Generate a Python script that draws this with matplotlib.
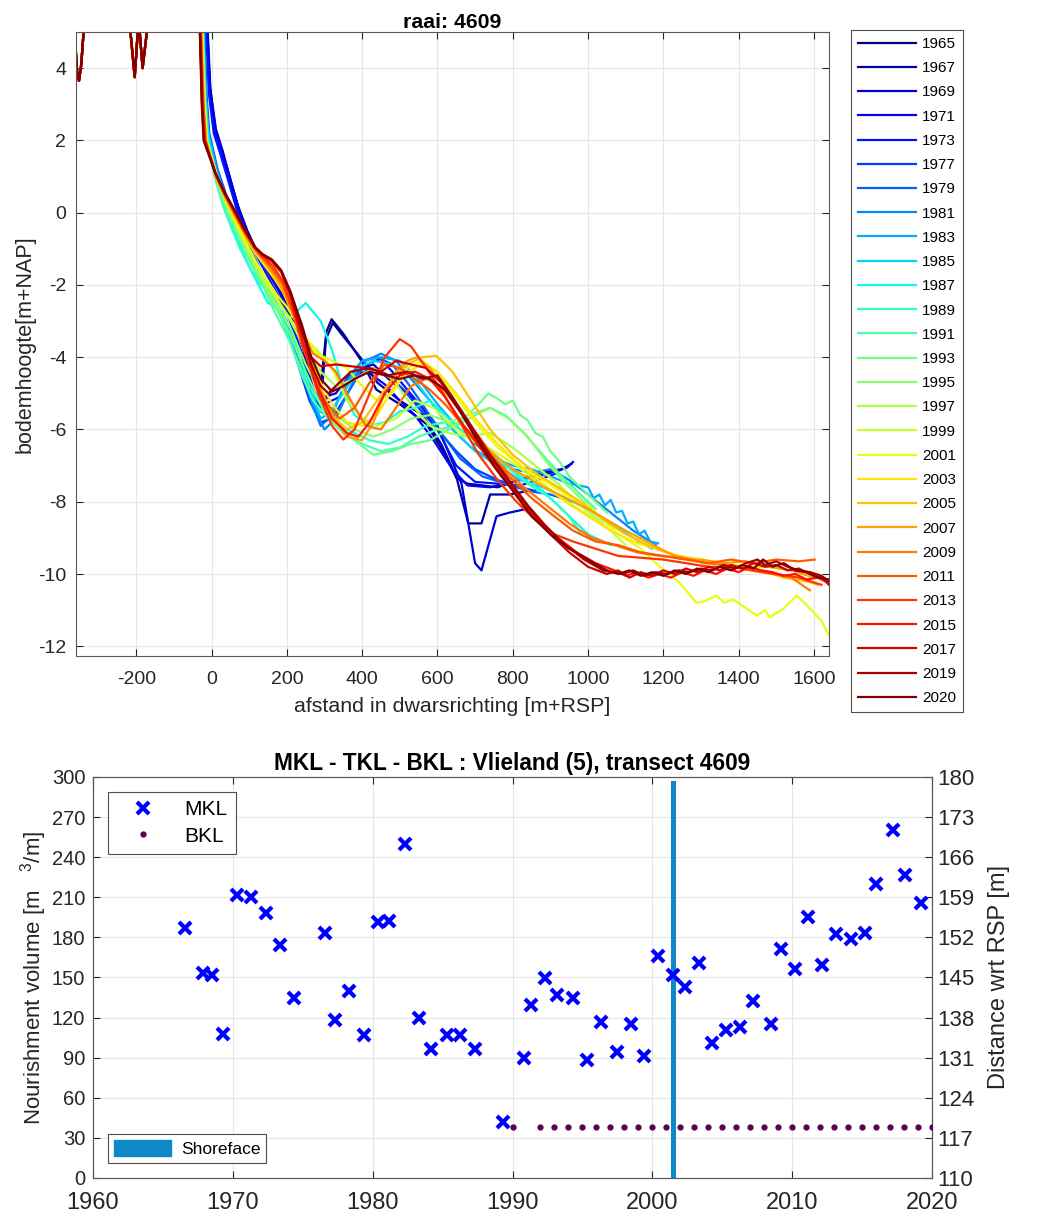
import numpy as np
import matplotlib
matplotlib.use("Agg")
import matplotlib.pyplot as plt
from matplotlib.patches import Patch

plt.rcParams['font.family'] = ['Liberation Sans', 'DejaVu Sans']
plt.rcParams['axes.unicode_minus'] = False
plt.rcParams['mathtext.fontset'] = 'custom'
plt.rcParams['mathtext.rm'] = 'Liberation Sans'

# ---------------- top panel: cross-shore profiles (x [m+RSP], z [m+NAP]) ----------------
years = [1965, 1967, 1969, 1971, 1973, 1977, 1979, 1981, 1983, 1985, 1987, 1989, 1991,
         1993, 1995, 1997, 1999, 2001, 2003, 2005, 2007, 2009, 2011, 2013, 2015, 2017,
         2019, 2020]

dune = [(-366, 5.4), (-357, 3.9), (-352, 3.65), (-346, 4.1), (-337, 5.4), (-300, 6.5),
        (-230, 6.5), (-218, 5.3), (-204, 3.75), (-196, 5.0), (-193, 5.3), (-183, 4.0),
        (-174, 4.8), (-165, 5.5), (-120, 7.0), (-60, 7.5)]

p1965 = [(-20, 7.5), (-12, 5.0), (-5, 3.5), (8, 2.4), (25, 1.8), (45, 1.1), (70, 0.2), (95, -0.5),
         (120, -1.05), (150, -1.55), (175, -2.0), (215, -2.9), (245, -3.8), (265, -4.8), (285, -5.3),
         (298, -4.0), (305, -3.3), (319, -2.95), (350, -3.35), (398, -4.1), (438, -4.9), (500, -5.3),
         (571, -5.85), (615, -6.6), (651, -7.35), (680, -7.5), (720, -7.55), (760, -7.6), (800, -7.45),
         (840, -7.3), (900, -7.15), (930, -7.1), (956, -6.95)]
p1967 = [(-18, 7.5), (-11, 5.0), (-4, 3.5), (10, 2.3), (28, 1.7), (48, 1.0), (72, 0.1), (98, -0.6),
         (122, -1.1), (150, -1.6), (178, -2.1), (212, -2.8), (240, -3.6), (262, -4.6), (282, -5.2),
         (296, -4.6), (304, -3.5), (322, -3.05), (352, -3.45), (395, -4.0), (440, -4.7), (500, -5.2),
         (560, -5.6), (610, -6.4), (650, -7.3), (682, -8.6), (717, -8.6), (740, -7.8), (792, -7.8),
         (840, -7.7)]
p1969 = [(-18, 7.5), (-10, 5.0), (-3, 3.4), (12, 2.3), (30, 1.7), (50, 0.9), (75, 0.0), (100, -0.7),
         (125, -1.2), (155, -1.7), (180, -2.2), (210, -2.7), (240, -3.6), (270, -4.6), (300, -5.1),
         (330, -5.0), (360, -4.6), (400, -4.3), (430, -4.2), (470, -4.6), (520, -5.0), (560, -5.4),
         (600, -5.9), (640, -6.9), (664, -7.5), (700, -9.7), (717, -9.9), (757, -8.4), (792, -8.3),
         (836, -8.2)]
p1971 = [(-20, 7.5), (-12, 5.0), (-5, 3.3), (10, 2.2), (28, 1.6), (48, 0.9), (72, 0.05), (98, -0.65),
         (122, -1.15), (150, -1.65), (178, -2.15), (205, -2.8), (240, -3.9), (268, -5.1), (290, -5.4),
         (320, -4.9), (350, -4.6), (380, -4.4), (420, -4.45), (460, -4.75), (500, -5.2), (540, -5.6),
         (590, -6.3), (640, -7.1), (680, -7.55), (740, -7.6), (800, -7.45), (860, -7.3), (920, -7.15),
         (945, -7.05), (960, -6.9)]
p1973 = [(-22, 7.5), (-14, 5.0), (-7, 3.3), (6, 2.2), (24, 1.6), (44, 0.9), (68, 0.05), (94, -0.65),
         (118, -1.15), (146, -1.7), (172, -2.2), (205, -2.9), (240, -3.9), (270, -4.9), (300, -5.3),
         (340, -5.1), (380, -4.5), (420, -4.15), (450, -4.05), (480, -4.4), (520, -4.9), (560, -5.4),
         (600, -6.0), (650, -7.0), (700, -7.45), (760, -7.5), (820, -7.55), (880, -7.35), (920, -7.2)]
p1977 = [(-26, 7.5), (-19, 5.0), (-13, 3.2), (-6, 2.2), (16, 1.2), (42, 0.4), (65, -0.2), (92, -0.8),
         (122, -1.4), (150, -2.0), (175, -2.6), (200, -3.2), (230, -4.2), (260, -5.2), (290, -5.8),
         (320, -5.7), (350, -5.2), (390, -4.5), (430, -4.3), (470, -4.5), (510, -4.9), (550, -5.4),
         (600, -6.0), (650, -6.6), (700, -7.1), (760, -7.4), (820, -7.6), (860, -7.7)]
p1979 = [(-27, 7.5), (-20, 5.0), (-14, 3.1), (-7, 2.1), (14, 1.2), (40, 0.4), (63, -0.2), (90, -0.8),
         (120, -1.45), (148, -2.05), (172, -2.55), (200, -3.0), (230, -4.0), (260, -5.1), (290, -5.9),
         (320, -5.6), (360, -4.6), (400, -4.1), (440, -4.0), (480, -4.2), (520, -4.7), (560, -5.3),
         (610, -6.1), (660, -6.8), (720, -7.3), (780, -7.5), (840, -7.7), (900, -7.8), (960, -8.0)]
p1981 = [(-28, 7.5), (-21, 5.0), (-15, 3.1), (-8, 2.1), (14, 1.1), (38, 0.3), (60, -0.25), (88, -0.85),
         (118, -1.5), (146, -2.1), (172, -2.6), (200, -3.1), (240, -4.3), (270, -5.4), (300, -6.0),
         (330, -5.7), (370, -4.8), (410, -4.1), (450, -3.9), (490, -4.1), (530, -4.6), (580, -5.2),
         (630, -5.9), (690, -6.5), (750, -6.9), (800, -7.1), (850, -7.2), (900, -7.1), (950, -7.4),
         (1000, -7.8), (1060, -8.3), (1120, -8.8), (1180, -9.2)]
p1983 = [(-28, 7.5), (-21, 5.0), (-15, 3.2), (-8, 2.2), (14, 1.2), (38, 0.4), (60, -0.2), (86, -0.8),
         (115, -1.4), (140, -1.9), (165, -2.4), (190, -2.9), (225, -3.9), (260, -5.0), (290, -5.7),
         (320, -5.5), (360, -4.7), (400, -4.1), (450, -4.0), (500, -4.1), (550, -4.6), (600, -5.3),
         (650, -5.9), (700, -6.4), (750, -6.8), (800, -7.0), (850, -7.1), (900, -7.3), (950, -7.5),
         (1000, -7.6), (1015, -7.9), (1030, -7.8), (1045, -8.1), (1060, -7.95), (1075, -8.3),
         (1090, -8.25), (1105, -8.6), (1120, -8.55), (1135, -8.9), (1150, -8.8), (1165, -9.1),
         (1186, -9.15)]
p1985 = [(-29, 7.5), (-22, 5.0), (-16, 3.2), (-9, 2.2), (12, 1.1), (35, 0.3), (58, -0.3), (84, -0.9),
         (110, -1.5), (135, -2.0), (158, -2.4), (180, -2.7), (215, -3.4), (250, -4.5), (285, -5.5),
         (310, -5.6), (350, -5.0), (390, -4.3), (430, -4.1), (480, -4.2), (530, -4.5), (580, -5.2),
         (640, -6.0), (700, -6.6), (760, -7.0), (820, -7.4), (880, -7.6), (940, -7.9), (1000, -8.2),
         (1060, -8.6), (1120, -9.0), (1170, -9.3)]
p1987 = [(-30, 7.5), (-23, 5.0), (-17, 3.1), (-10, 2.1), (10, 1.0), (32, 0.2), (55, -0.4), (80, -1.0),
         (105, -1.6), (130, -2.1), (150, -2.5), (170, -2.6), (210, -2.9), (250, -2.5), (290, -3.0),
         (320, -3.8), (350, -4.9), (380, -5.6), (420, -5.9), (460, -5.8), (500, -5.5), (540, -5.4),
         (580, -5.2), (620, -5.6), (660, -6.0), (700, -6.3), (760, -6.8), (820, -7.3), (880, -7.7),
         (940, -8.3), (1000, -8.9), (1060, -9.2)]
p1989 = [(-30, 7.5), (-23, 5.0), (-17, 3.0), (-11, 2.0), (8, 1.0), (30, 0.2), (52, -0.4), (76, -1.0),
         (100, -1.5), (125, -1.9), (150, -2.2), (185, -2.9), (220, -3.9), (260, -4.8), (300, -5.5),
         (340, -5.9), (380, -6.1), (420, -6.3), (470, -6.4), (520, -6.2), (570, -5.9), (620, -5.8),
         (670, -6.1), (720, -6.5), (780, -7.0), (840, -7.5), (900, -7.9), (950, -8.4), (978, -8.85)]
p1991 = [(-31, 7.5), (-25, 5.0), (-19, 3.0), (-13, 2.0), (8, 1.1), (30, 0.3), (55, -0.3), (82, -0.9),
         (110, -1.5), (140, -2.1), (170, -2.8), (210, -3.6), (240, -4.5), (270, -5.2), (310, -5.7),
         (350, -6.1), (400, -6.4), (450, -6.6), (500, -6.5), (550, -6.2), (600, -6.0), (650, -5.9),
         (700, -5.6), (740, -5.4), (780, -5.6), (830, -6.1), (880, -6.7), (930, -7.3), (980, -7.8),
         (1020, -8.2)]
p1993 = [(-31, 7.5), (-25, 5.0), (-19, 3.0), (-13, 2.0), (10, 1.1), (32, 0.3), (58, -0.3), (85, -0.9),
         (112, -1.5), (142, -2.1), (175, -2.7), (210, -3.4), (250, -4.4), (290, -5.3), (330, -5.9),
         (380, -6.3), (430, -6.7), (480, -6.6), (530, -6.4), (580, -6.3), (630, -6.0), (680, -5.6),
         (710, -5.3), (735, -5.0), (760, -5.15), (780, -5.3), (800, -5.2), (820, -5.6), (840, -5.75),
         (860, -6.1), (880, -6.2), (900, -6.6), (925, -6.9), (950, -7.3), (1000, -7.8), (1050, -8.3)]
p1995 = [(-30, 7.5), (-24, 5.0), (-18, 3.0), (-12, 2.0), (10, 1.1), (33, 0.35), (58, -0.25), (85, -0.85),
         (114, -1.45), (144, -2.05), (176, -2.6), (210, -3.2), (250, -4.2), (290, -5.0), (330, -5.6),
         (380, -6.0), (430, -6.2), (480, -6.0), (530, -5.7), (580, -5.6), (630, -5.8), (680, -5.6),
         (740, -5.4), (790, -5.7), (840, -6.2), (890, -6.9), (940, -7.5), (990, -8.0), (1040, -8.5)]
p1997 = [(-30, 7.5), (-24, 5.0), (-18, 3.0), (-12, 2.0), (12, 1.1), (35, 0.35), (60, -0.25), (88, -0.85),
         (116, -1.45), (146, -2.0), (178, -2.5), (210, -3.0), (250, -3.8), (290, -4.4), (330, -4.8),
         (380, -4.6), (430, -4.3), (480, -4.6), (530, -5.3), (580, -5.9), (630, -6.1), (680, -6.2),
         (740, -6.1), (800, -6.5), (860, -7.0), (920, -7.5), (980, -8.1), (1040, -8.6)]
p1999 = [(-30, 7.5), (-24, 5.0), (-18, 3.0), (-12, 2.0), (12, 1.1), (36, 0.4), (62, -0.2), (90, -0.8),
         (118, -1.4), (148, -1.95), (175, -2.4), (200, -2.8), (240, -3.4), (280, -3.8), (320, -4.3),
         (360, -5.2), (400, -5.7), (440, -5.9), (490, -5.7), (540, -5.2), (590, -5.4), (640, -5.9),
         (690, -6.3), (750, -6.6), (810, -7.0), (870, -7.5), (930, -7.9), (990, -8.3), (1050, -8.7),
         (1100, -9.2)]
p2001 = [(-31, 7.5), (-25, 5.0), (-19, 3.0), (-13, 2.0), (12, 1.1), (36, 0.4), (62, -0.2), (90, -0.8),
         (120, -1.4), (150, -1.9), (175, -2.3), (200, -2.6), (240, -3.3), (280, -3.9), (320, -4.1),
         (360, -4.3), (400, -4.8), (440, -5.2), (480, -5.0), (520, -4.3), (560, -4.1), (600, -4.4),
         (650, -5.1), (700, -5.8), (760, -6.5), (820, -7.0), (880, -7.4), (940, -7.8), (1000, -8.1),
         (1032, -8.4), (1080, -8.9), (1140, -9.3), (1191, -9.8), (1244, -10.25), (1288, -10.8),
         (1310, -10.75), (1341, -10.6), (1362, -10.8), (1385, -10.7), (1420, -10.95), (1448, -11.15),
         (1470, -11.0), (1483, -11.2), (1520, -10.95), (1554, -10.6), (1575, -10.8), (1598, -11.05),
         (1620, -11.3), (1640, -11.7)]
p2003 = [(-32, 7.5), (-26, 5.0), (-20, 3.0), (-14, 2.0), (10, 1.1), (35, 0.45), (60, -0.1), (88, -0.65),
         (115, -1.1), (140, -1.45), (165, -1.8), (190, -2.2), (220, -2.9), (250, -3.7), (280, -4.5),
         (320, -5.3), (360, -5.8), (400, -5.9), (440, -5.6), (480, -4.9), (520, -4.4), (560, -4.2),
         (600, -4.4), (650, -5.0), (700, -5.7), (760, -6.4), (820, -7.0), (880, -7.5), (940, -8.0),
         (1000, -8.4), (1060, -8.8), (1120, -9.1), (1180, -9.3), (1240, -9.5), (1300, -9.6),
         (1360, -9.7), (1420, -9.8), (1480, -9.8), (1540, -9.9), (1600, -10.0)]
p2005 = [(-33, 7.5), (-27, 5.0), (-21, 3.0), (-15, 2.0), (10, 1.1), (35, 0.5), (60, 0.0), (88, -0.55),
         (115, -1.0), (140, -1.35), (165, -1.7), (190, -2.15), (220, -2.8), (250, -3.6), (280, -4.6),
         (320, -5.6), (360, -6.0), (400, -5.8), (440, -5.2), (480, -4.6), (520, -4.2), (560, -4.0),
         (597, -3.96), (640, -4.4), (690, -5.2), (740, -6.0), (800, -6.7), (860, -7.2), (920, -7.6),
         (980, -8.0), (1040, -8.5), (1100, -8.9), (1160, -9.2), (1220, -9.45), (1280, -9.6),
         (1340, -9.7), (1400, -9.8), (1460, -9.9), (1520, -10.1), (1580, -10.2), (1610, -10.3)]
p2007 = [(-33, 7.5), (-27, 5.0), (-21, 3.0), (-15, 2.0), (10, 1.0), (35, 0.45), (60, -0.05), (88, -0.6),
         (115, -1.05), (140, -1.35), (165, -1.7), (190, -2.15), (220, -2.9), (250, -3.8), (280, -4.7),
         (320, -5.6), (360, -6.2), (400, -6.3), (430, -5.8), (460, -5.0), (490, -4.4), (520, -4.1),
         (545, -4.0), (580, -4.3), (630, -5.0), (680, -5.8), (740, -6.6), (800, -7.1), (850, -7.4),
         (890, -7.63), (1000, -8.2), (1100, -8.8), (1244, -9.58), (1300, -9.6), (1360, -9.7),
         (1420, -9.65), (1480, -9.8), (1540, -9.9), (1600, -10.1)]
p2009 = [(-34, 7.5), (-28, 5.0), (-22, 3.0), (-16, 2.0), (10, 1.1), (35, 0.5), (60, 0.0), (88, -0.55),
         (115, -1.0), (140, -1.3), (165, -1.6), (190, -2.0), (220, -2.8), (245, -3.4), (270, -3.9),
         (300, -4.1), (330, -4.4), (370, -5.2), (410, -5.9), (450, -6.0), (490, -5.4), (530, -4.8),
         (570, -4.6), (610, -4.8), (660, -5.5), (710, -6.3), (770, -7.0), (830, -7.6), (890, -8.1),
         (950, -8.6), (1010, -9.0), (1070, -9.2), (1130, -9.4), (1190, -9.5), (1250, -9.55),
         (1310, -9.7), (1370, -9.75), (1430, -9.9), (1490, -10.0), (1540, -10.1), (1589, -10.45)]
p2011 = [(-34, 7.5), (-28, 5.0), (-22, 3.0), (-16, 2.0), (10, 1.1), (35, 0.5), (60, 0.0), (88, -0.55),
         (115, -1.0), (140, -1.3), (165, -1.6), (190, -2.0), (220, -2.9), (245, -3.8), (270, -4.5),
         (300, -5.2), (340, -5.7), (380, -5.4), (420, -4.7), (460, -4.2), (500, -4.3), (540, -4.6),
         (580, -4.9), (620, -5.3), (670, -5.9), (730, -6.6), (790, -7.3), (850, -7.9), (910, -8.4),
         (960, -8.8), (1020, -9.1), (1080, -9.2), (1140, -9.4), (1200, -9.5), (1260, -9.6),
         (1320, -9.7), (1380, -9.6), (1440, -9.7), (1500, -9.6), (1560, -9.65), (1602, -9.6)]
p2013 = [(-35, 7.5), (-29, 5.0), (-23, 3.0), (-17, 2.0), (10, 1.1), (35, 0.5), (60, 0.05), (88, -0.5),
         (115, -0.95), (140, -1.25), (165, -1.5), (190, -1.9), (220, -2.8), (250, -3.9), (280, -4.9),
         (320, -5.9), (350, -6.28), (380, -6.0), (420, -5.0), (460, -4.0), (500, -3.5), (530, -3.7),
         (570, -4.3), (610, -4.9), (660, -5.8), (710, -6.7), (760, -7.4), (810, -8.0), (860, -8.5),
         (910, -8.9), (960, -9.1), (1020, -9.3), (1080, -9.5), (1140, -9.55), (1200, -9.6),
         (1260, -9.7), (1320, -9.8), (1380, -9.8), (1440, -9.9), (1500, -10.0), (1560, -10.1),
         (1620, -10.3)]
p2015 = [(-36, 7.5), (-30, 5.0), (-24, 3.0), (-18, 2.0), (10, 1.1), (35, 0.55), (60, 0.05), (88, -0.5),
         (115, -0.95), (135, -1.2), (160, -1.35), (185, -1.65), (210, -2.3), (240, -3.5), (280, -4.8),
         (320, -5.7), (360, -6.1), (390, -6.2), (420, -5.8), (460, -5.0), (500, -4.5), (540, -4.4),
         (580, -4.6), (620, -5.1), (670, -5.9), (720, -6.6), (770, -7.3), (820, -7.9), (870, -8.5),
         (920, -9.0), (970, -9.4), (1020, -9.7), (1070, -9.9), (1100, -10.05), (1130, -9.95),
         (1160, -10.1), (1190, -10.0), (1220, -10.1), (1250, -9.95), (1280, -10.05), (1310, -9.9),
         (1340, -10.0), (1370, -9.85), (1400, -9.95), (1430, -9.8), (1460, -9.9), (1490, -9.95),
         (1520, -10.05), (1550, -10.0), (1580, -10.15), (1610, -10.1), (1640, -10.25)]
p2017 = [(-36, 7.5), (-30, 5.0), (-25, 3.0), (-19, 2.0), (10, 1.1), (35, 0.55), (62, 0.05), (90, -0.5),
         (115, -0.95), (135, -1.15), (160, -1.3), (185, -1.6), (210, -2.3), (235, -3.2), (265, -4.0),
         (290, -4.25), (330, -4.2), (370, -4.25), (410, -4.3), (450, -4.4), (490, -4.1), (530, -4.2),
         (570, -4.3), (610, -4.7), (650, -5.3), (700, -6.1), (750, -6.9), (800, -7.6), (850, -8.3),
         (900, -8.9), (950, -9.4), (1000, -9.8), (1050, -10.0), (1080, -9.9), (1110, -10.1),
         (1140, -9.95), (1170, -10.05), (1200, -9.9), (1230, -10.0), (1260, -9.85), (1290, -9.95),
         (1320, -9.8), (1350, -9.9), (1380, -9.75), (1410, -9.85), (1440, -9.7), (1470, -9.8),
         (1500, -9.75), (1530, -9.9), (1560, -9.85), (1590, -10.0), (1620, -10.1), (1640, -10.3)]
p2019 = [(-37, 7.5), (-31, 5.0), (-25, 3.0), (-20, 2.0), (10, 1.1), (35, 0.55), (62, 0.05), (90, -0.5),
         (115, -0.95), (135, -1.15), (160, -1.3), (185, -1.6), (210, -2.2), (240, -3.2), (265, -4.2),
         (290, -4.8), (311, -5.0), (340, -4.7), (370, -4.4), (420, -4.3), (470, -4.5), (520, -4.4),
         (560, -4.6), (600, -4.5), (640, -5.1), (690, -5.9), (740, -6.7), (790, -7.4), (840, -8.1),
         (890, -8.7), (940, -9.2), (990, -9.6), (1040, -9.9), (1090, -10.0), (1120, -9.9),
         (1150, -10.05), (1180, -9.95), (1210, -10.0), (1240, -9.9), (1270, -9.95), (1300, -9.85),
         (1330, -9.9), (1360, -9.75), (1390, -9.85), (1420, -9.7), (1450, -9.6), (1470, -9.75),
         (1500, -9.65), (1530, -9.8), (1560, -9.9), (1590, -9.95), (1620, -10.05), (1640, -10.2)]
p2020 = [(-37, 7.5), (-31, 5.0), (-26, 3.0), (-21, 2.0), (10, 1.1), (35, 0.55), (62, 0.05), (90, -0.5),
         (115, -0.95), (135, -1.15), (160, -1.3), (185, -1.6), (210, -2.2), (240, -3.1), (265, -4.0),
         (290, -4.6), (320, -4.95), (350, -4.8), (380, -4.6), (420, -4.4), (460, -4.5), (500, -4.6),
         (540, -4.5), (580, -4.6), (620, -4.9), (660, -5.5), (700, -6.2), (750, -7.0), (800, -7.7),
         (850, -8.4), (900, -8.9), (950, -9.3), (1000, -9.6), (1050, -9.9), (1080, -10.0),
         (1110, -9.9), (1140, -10.05), (1170, -9.95), (1200, -10.05), (1230, -9.9), (1260, -10.0),
         (1290, -9.85), (1320, -9.95), (1350, -9.8), (1380, -9.9), (1410, -9.75), (1440, -9.85),
         (1465, -9.6), (1490, -9.8), (1520, -9.7), (1550, -9.9), (1580, -9.95), (1610, -10.1),
         (1640, -10.15)]

profiles = [p1965, p1967, p1969, p1971, p1973, p1977, p1979, p1981, p1983, p1985, p1987,
            p1989, p1991, p1993, p1995, p1997, p1999, p2001, p2003, p2005, p2007, p2009,
            p2011, p2013, p2015, p2017, p2019, p2020]

# ---------------- bottom panel ----------------
mkl_year = [1966.6, 1967.9, 1968.5, 1969.3, 1970.3, 1971.3, 1972.4, 1973.4, 1974.4, 1976.6,
            1977.3, 1978.3, 1979.4, 1980.35, 1981.2, 1982.3, 1983.3, 1984.2, 1985.3, 1986.25,
            1987.3, 1989.3, 1990.8, 1991.3, 1992.3, 1993.2, 1994.3, 1995.3, 1996.3, 1997.5,
            1998.5, 1999.4, 2000.4, 2001.5, 2002.3, 2003.3, 2004.3, 2005.3, 2006.3, 2007.2,
            2008.5, 2009.2, 2010.2, 2011.1, 2012.1, 2013.1, 2014.2, 2015.2, 2016.0, 2017.2,
            2018.1, 2019.2]
mkl_dist = [153.6, 145.8, 145.4, 135.1, 159.4, 159.1, 156.2, 150.7, 141.4, 152.7,
            137.6, 142.7, 134.9, 154.6, 154.9, 168.3, 137.9, 132.5, 134.9, 134.9,
            132.5, 119.8, 130.9, 140.2, 144.9, 141.9, 141.4, 130.5, 137.3, 131.9,
            136.9, 131.3, 148.8, 145.4, 143.4, 147.6, 133.6, 135.9, 136.3, 140.8,
            136.9, 150.0, 146.4, 155.5, 147.1, 152.5, 151.7, 152.8, 161.3, 170.8,
            162.8, 158.0]
bkl_year = [1990] + list(range(1992, 2021))
bkl_dist = [118.9] * len(bkl_year)
nour_year = [2001.5]
nour_vol = [297]

fig = plt.figure(figsize=(10.45, 12.16), dpi=100)

# top
ax = fig.add_axes([0.0727, 0.4605, 0.7206, 0.5132])
colors = plt.cm.jet(np.linspace(0, 1, len(years)))
for yr, prof, c in zip(years, profiles, colors):
    pts = np.array(dune + prof)
    ax.plot(pts[:, 0], pts[:, 1], color=c, lw=1.6, label=str(yr))
ax.set_xlim(-360, 1640)
ax.set_ylim(-12.27, 5)
ax.set_xticks(np.arange(-200, 1601, 200))
ax.set_yticks(np.arange(-12, 5, 2))
ax.grid(True, color='0.9', lw=0.8)
ax.set_axisbelow(True)
ax.tick_params(direction='in', top=True, right=True, labelsize=14, colors='0.15', length=5)
ax.tick_params(axis='x', pad=11)
ax.tick_params(axis='y', pad=7)
for s in ax.spines.values():
    s.set_color('0.35')
ax.set_title('raai: 4609', fontweight='bold', fontsize=15.3, pad=3)
ax.set_xlabel('afstand in dwarsrichting [m+RSP]', fontsize=15.4, color='0.15', labelpad=6)
ax.set_ylabel('bodemhoogte[m+NAP]', fontsize=15.5, color='0.15', labelpad=2)
leg = ax.legend(loc='upper left', bbox_to_anchor=(0.8144, 0.9753), bbox_transform=fig.transFigure,
                borderaxespad=0, fontsize=11, handlelength=3.8, labelspacing=0.67,
                fancybox=False, edgecolor='0.3', framealpha=1, borderpad=0.45, handletextpad=0.4)
leg.get_frame().set_linewidth(0.8)

# bottom
bx = fig.add_axes([0.0890, 0.0313, 0.8029, 0.3298])
bx.bar(nour_year, nour_vol, width=0.33, color='#0f88c8', zorder=2)
bx.set_xlim(1960, 2020)
bx.set_ylim(0, 300)
bx.set_xticks(np.arange(1960, 2021, 10))
bx.set_yticks(np.arange(0, 301, 30))
bx.grid(True, color='0.9', lw=0.8)
bx.set_axisbelow(True)
bx.tick_params(direction='in', top=True, length=5, colors='0.15')
bx.tick_params(axis='x', labelsize=17, pad=10)
bx.tick_params(axis='y', labelsize=14.5, pad=5.5)
bx.set_ylabel('Nourishment volume [m   $^{3}$/m]', fontsize=16, color='0.15', labelpad=2)
bx.set_title('MKL - TKL - BKL : Vlieland (5), transect 4609', fontweight='bold', fontsize=16.3, pad=5)
for s in bx.spines.values():
    s.set_color('0.35')
bleg = bx.legend([Patch(color='#0f88c8')], ['Shoreface'], loc='lower left',
                 bbox_to_anchor=(0.1033, 0.0436), bbox_transform=fig.transFigure, borderaxespad=0,
                 fontsize=12.5, fancybox=False, edgecolor='0.3', framealpha=1, handlelength=3.3,
                 handleheight=1.0, handletextpad=0.55, borderpad=0.35)
bleg.get_frame().set_linewidth(0.8)

rx = bx.twinx()
rx.plot(mkl_year, mkl_dist, 'x', color='#0000ff', ms=9, mew=3, label='MKL', zorder=3)
rx.plot(bkl_year, bkl_dist, '.', color='#5a0050', ms=7, label='BKL', zorder=3)
rx.set_ylim(110, 180)
rx.set_yticks(np.arange(110, 181, 7))
rx.tick_params(direction='in', length=5, labelsize=16, colors='0.15')
rx.set_ylabel('Distance wrt RSP [m]', fontsize=17, color='0.15', labelpad=10)
for s in rx.spines.values():
    s.set_color('0.35')
rleg = rx.legend(loc='upper left', bbox_to_anchor=(0.1033, 0.3487), bbox_transform=fig.transFigure,
                 borderaxespad=0, fontsize=15, fancybox=False, edgecolor='0.3', framealpha=1,
                 handletextpad=0.67, handlelength=2.6, borderpad=0.4, labelspacing=0.35)
rleg.get_frame().set_linewidth(0.8)

fig.savefig('out.png', dpi=100)
